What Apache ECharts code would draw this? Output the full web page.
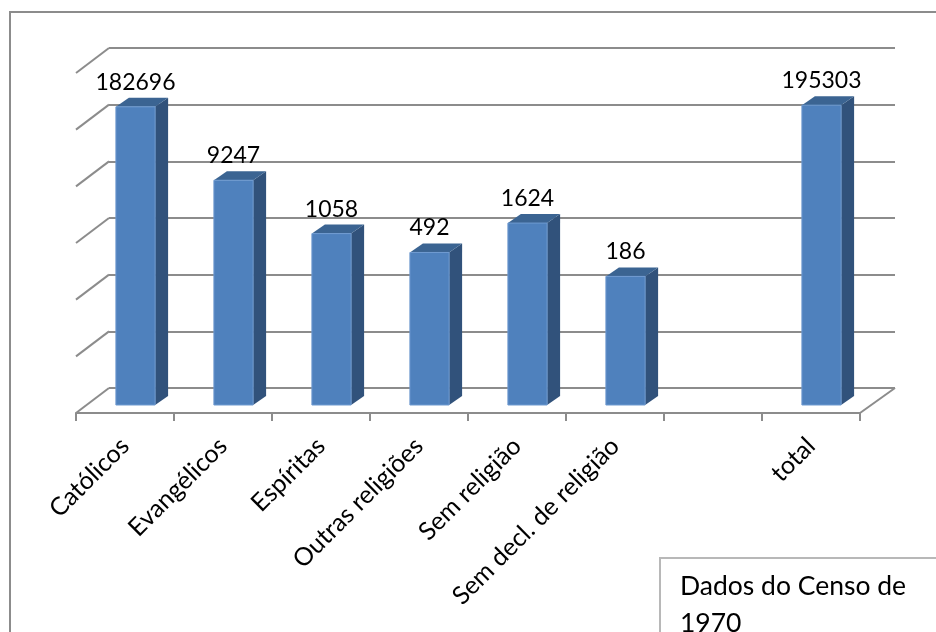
<!DOCTYPE html>
<html><head><meta charset="utf-8">
<style>html,body{margin:0;padding:0;background:#fff}#c{width:936px;height:632px}</style>
<script src="https://cdn.jsdelivr.net/npm/echarts@6/dist/echarts.min.js"></script>
</head><body><div id="c"></div>
<script>
const categories = ['Católicos','Evangélicos','Espíritas','Outras religiões','Sem religião','Sem decl. de religião','','total'];
const values = [182696,9247,1058,492,1624,186,null,195303];
const decades = [1,10,100,1000,10000,100000,1000000];
const noteLines = 'Dados do Censo de\n1970';

const FONT = 'Lato';
const GRID = '#8c8c8c';
const wallDx = 33, wallDy = -25;   // depth of the 3D box
const barOffX = 10.5, barOffY = -8;  // bar front plane inside the box
const barDx = 13, barDy = -9;      // bar depth

const chart = echarts.init(document.getElementById('c'), null, {renderer:'canvas'});

function renderBar(params, api){
  const i = api.value(0), v = api.value(1);
  const top = api.coord([i, v]), base = api.coord([i, 1]);
  const bw = api.size([1,0])[0] * 0.4;
  const l = top[0] - bw/2 + barOffX, r = l + bw;
  const t = top[1] + barOffY, b = base[1] + barOffY;
  return {type:'group', children:[
    {type:'polygon', shape:{points:[[r,t],[r+barDx,t+barDy],[r+barDx,b+barDy],[r,b]]}, style:{fill:'#31527b'}},
    {type:'polygon', shape:{points:[[l,t],[l+barDx,t+barDy],[r+barDx,t+barDy],[r,t]]}, style:{fill:'#3b6492'}},
    {type:'rect', shape:{x:l,y:t,width:bw,height:b-t}, style:{fill:'#4f81bd', stroke:'#6f9ad0', lineWidth:1}},
    {type:'text', style:{text:String(v), x:(l+r)/2, y:t+barDy-4, align:'center', verticalAlign:'bottom',
      fill:'#000', font:'23px '+FONT}}
  ]};
}
function renderWall(params, api){
  const v = api.value(0);
  const p = api.coord([0, v]);
  const x = p[0] - api.size([1,0])[0]/2;
  return {type:'line', shape:{x1:x,y1:p[1],x2:x+wallDx,y2:p[1]+wallDy}, style:{stroke:GRID, lineWidth:2}};
}
function renderFloorEdge(params, api){
  const p = api.coord([api.value(0), 1]);
  const x = p[0] + api.size([1,0])[0]/2;
  return {type:'line', shape:{x1:x,y1:p[1],x2:x+wallDx+2,y2:p[1]+wallDy}, style:{stroke:GRID, lineWidth:2}};
}

chart.setOption({
  animation:false,
  backgroundColor:'#fff',
  grid:[
    {left:76, top:73, width:784, height:340},
    {left:109, top:48, width:786, height:340}
  ],
  xAxis:[
    {type:'category', gridIndex:0, data:categories,
      axisLine:{show:true, lineStyle:{color:GRID, width:2}},
      axisTick:{show:true, length:8, lineStyle:{color:GRID, width:2}},
      axisLabel:{interval:0, rotate:45, margin:29, color:'#000', fontFamily:FONT, fontSize:25}},
    {type:'category', gridIndex:1, data:categories, show:false}
  ],
  yAxis:[
    {type:'log', logBase:10, gridIndex:0, min:1, max:1000000, show:false},
    {type:'log', logBase:10, gridIndex:1, min:1, max:1000000,
      axisLine:{show:false}, axisTick:{show:false}, axisLabel:{show:false},
      splitLine:{show:true, lineStyle:{color:GRID, width:2}}}
  ],
  series:[
    {type:'custom', xAxisIndex:0, yAxisIndex:0, z:2, silent:true, clip:false, renderItem:renderWall,
      data:decades.map(d=>[d]), encode:{y:0}},
    {type:'custom', xAxisIndex:0, yAxisIndex:0, z:2, silent:true, clip:false, renderItem:renderFloorEdge,
      data:[[categories.length-1]], encode:{x:0}},
    {type:'custom', xAxisIndex:0, yAxisIndex:0, z:3, silent:true, clip:false, renderItem:renderBar,
      data:values.map((v,i)=>[i,v]).filter(d=>d[1]!==null), encode:{x:0,y:1}}
  ],
  graphic:[
    {type:'polyline', silent:true, z:1, shape:{points:[[10,632],[10,12],[936,12]]}, style:{fill:null, stroke:'#8c8c8c', lineWidth:2}},
    {type:'polyline', silent:true, z:1, shape:{points:[[660,632],[660,558],[936,558]]}, style:{fill:null, stroke:'#b8b8b8', lineWidth:2}},
    {type:'text', silent:true, z:5, left:680, top:568, style:{text:noteLines, fill:'#000', font:'26.5px '+FONT, lineHeight:37}}
  ]
});
</script></body></html>
